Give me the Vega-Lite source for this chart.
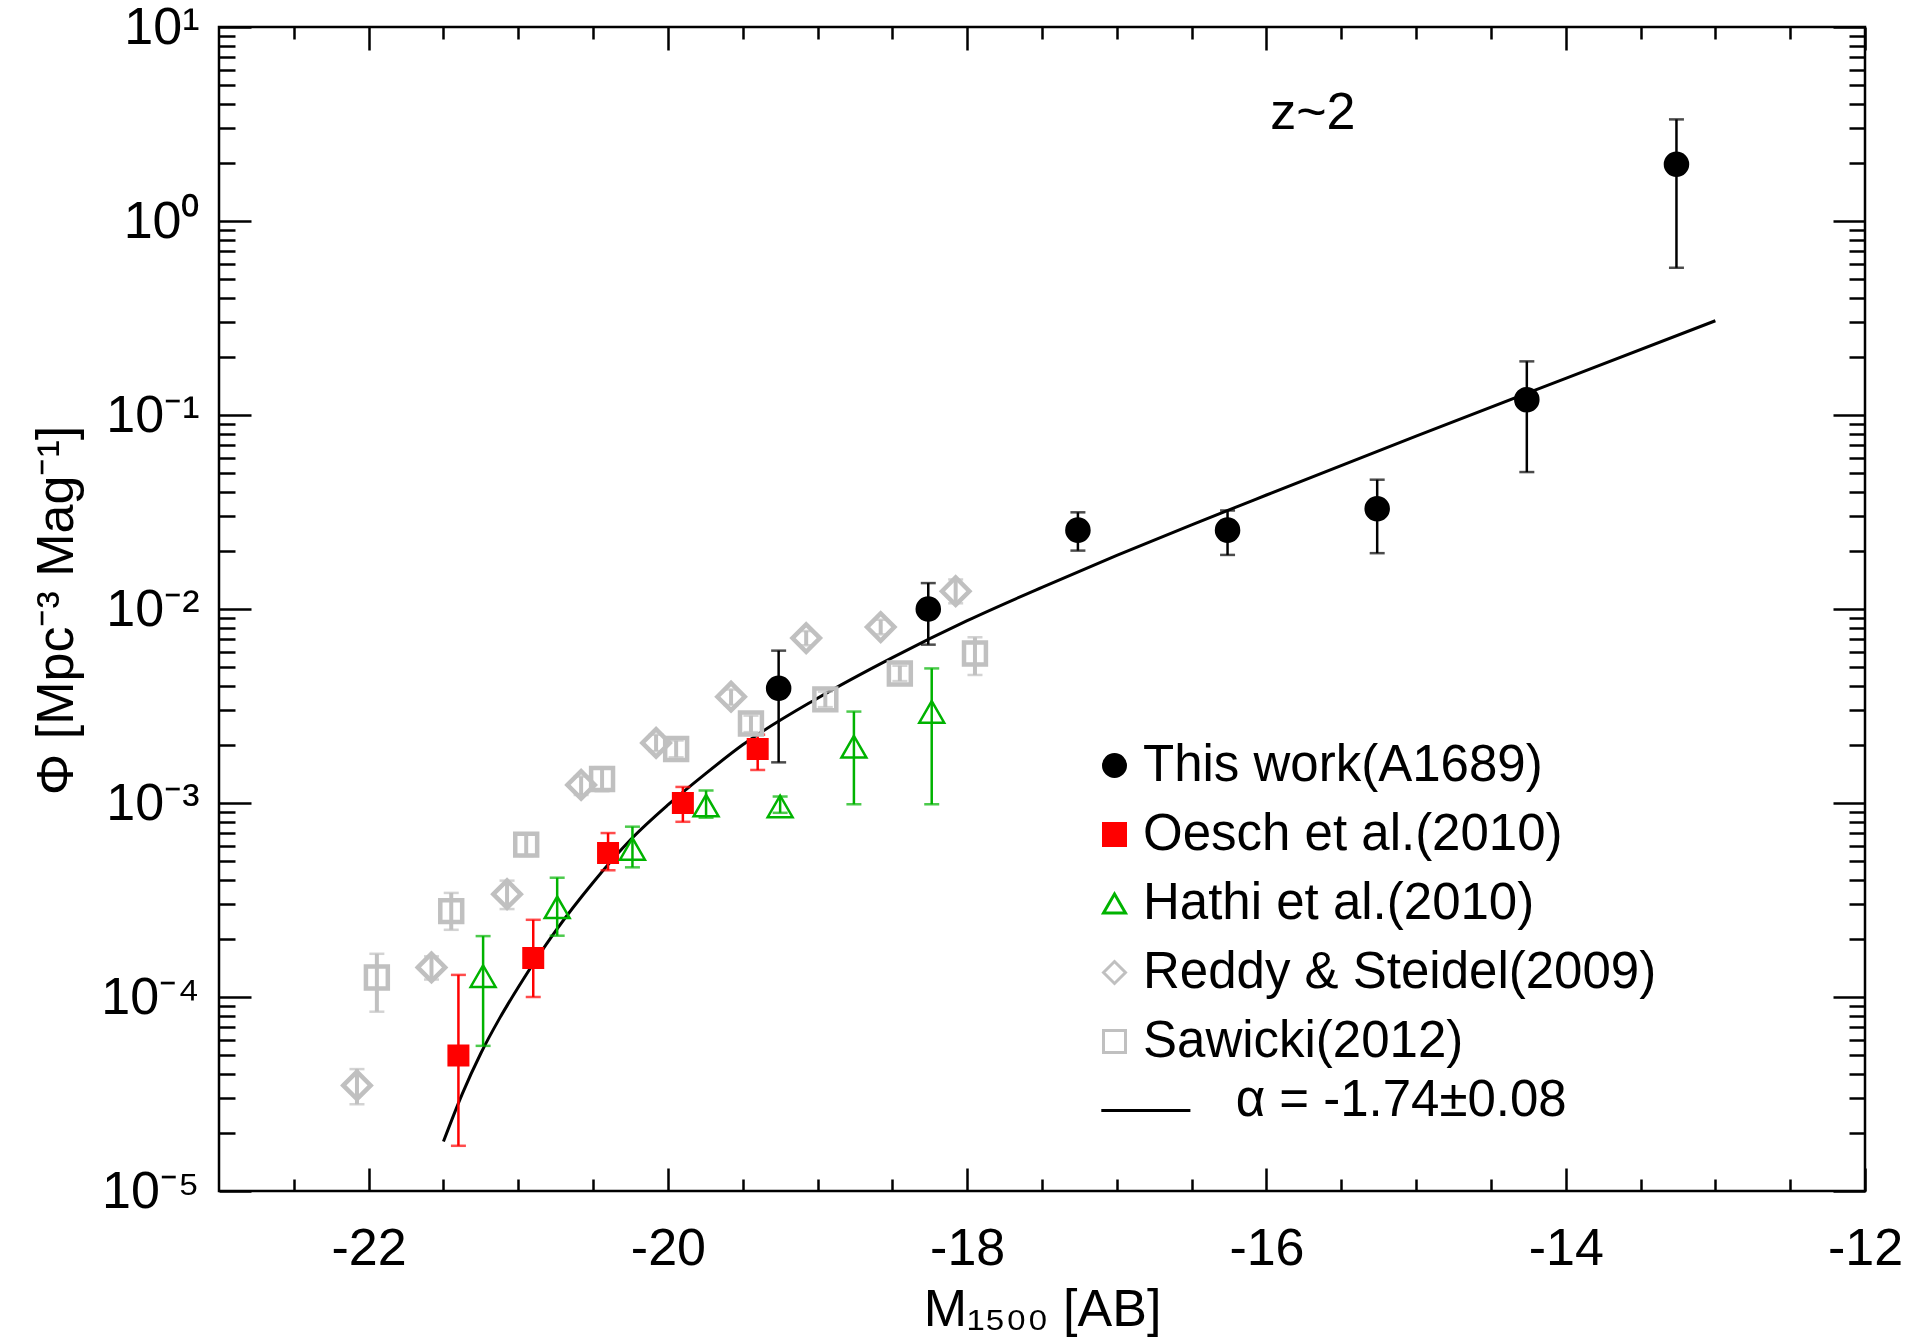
{
  "$schema": "https://vega.github.io/schema/vega-lite/v6.json",
  "width": 1646,
  "height": 1164,
  "autosize": {"type": "none"},
  "padding": {"left": 219, "top": 27, "right": 49, "bottom": 149},
  "background": "white",
  "config": {
    "view": {"stroke": "black", "strokeWidth": 2.5},
    "axis": {
      "grid": false, "domain": false, "tickColor": "black", "tickWidth": 2.5,
      "labelFont": "Liberation Sans", "labelFontSize": 52, "labelColor": "black",
      "titleFont": "Liberation Sans", "titleFontSize": 52, "titleFontWeight": "normal", "titleColor": "black",
      "labelFlush": false, "labelOverlap": false
    }
  },
  "datasets": {
    "curve": [
      {"M": -21.5, "phi": 1.80e-5},
      {"M": -21.375, "phi": 3.16e-5},
      {"M": -21.25, "phi": 5.13e-5},
      {"M": -21.125, "phi": 7.76e-5},
      {"M": -21.0, "phi": 1.122e-4},
      {"M": -20.75, "phi": 2.19e-4},
      {"M": -20.5, "phi": 3.89e-4},
      {"M": -20.25, "phi": 6.46e-4},
      {"M": -20.0, "phi": 9.77e-4},
      {"M": -19.75, "phi": 1.413e-3},
      {"M": -19.5, "phi": 1.995e-3},
      {"M": -19.0, "phi": 3.47e-3},
      {"M": -18.5, "phi": 5.62e-3},
      {"M": -18.0, "phi": 8.71e-3},
      {"M": -17.5, "phi": 1.294e-2},
      {"M": -17.0, "phi": 1.888e-2},
      {"M": -16.5, "phi": 2.716e-2},
      {"M": -16.0, "phi": 3.87e-2},
      {"M": -15.0, "phi": 7.78e-2},
      {"M": -14.0, "phi": 0.1545},
      {"M": -13.0, "phi": 0.306}
    ],
    "pts": [
      {"series": "This work(A1689)", "M": -19.26, "phi": 3.9e-3, "lo": 1.62e-3, "hi": 6.1e-3},
      {"series": "This work(A1689)", "M": -18.26, "phi": 1.0e-2, "lo": 6.55e-3, "hi": 1.36e-2},
      {"series": "This work(A1689)", "M": -17.26, "phi": 2.55e-2, "lo": 2.0e-2, "hi": 3.15e-2},
      {"series": "This work(A1689)", "M": -16.26, "phi": 2.55e-2, "lo": 1.9e-2, "hi": 3.22e-2},
      {"series": "This work(A1689)", "M": -15.26, "phi": 3.29e-2, "lo": 1.94e-2, "hi": 4.64e-2},
      {"series": "This work(A1689)", "M": -14.26, "phi": 0.120, "lo": 5.08e-2, "hi": 0.189},
      {"series": "This work(A1689)", "M": -13.26, "phi": 1.96, "lo": 0.574, "hi": 3.34},
      {"series": "Oesch et al.(2010)", "M": -21.40, "phi": 5.0e-5, "lo": 1.71e-5, "hi": 1.3e-4},
      {"series": "Oesch et al.(2010)", "M": -20.90, "phi": 1.59e-4, "lo": 1.0e-4, "hi": 2.5e-4},
      {"series": "Oesch et al.(2010)", "M": -20.40, "phi": 5.53e-4, "lo": 4.5e-4, "hi": 7.0e-4},
      {"series": "Oesch et al.(2010)", "M": -19.90, "phi": 1.0e-3, "lo": 8.0e-4, "hi": 1.21e-3},
      {"series": "Oesch et al.(2010)", "M": -19.40, "phi": 1.9e-3, "lo": 1.48e-3, "hi": 2.25e-3},
      {"series": "Hathi et al.(2010)", "M": -21.235, "phi": 1.28e-4, "lo": 5.6e-5, "hi": 2.06e-4},
      {"series": "Hathi et al.(2010)", "M": -20.74, "phi": 2.9e-4, "lo": 2.07e-4, "hi": 4.12e-4},
      {"series": "Hathi et al.(2010)", "M": -20.237, "phi": 5.8e-4, "lo": 4.66e-4, "hi": 7.55e-4},
      {"series": "Hathi et al.(2010)", "M": -19.745, "phi": 9.7e-4, "lo": 8.4e-4, "hi": 1.16e-3},
      {"series": "Hathi et al.(2010)", "M": -19.25, "phi": 9.6e-4, "lo": 8.9e-4, "hi": 1.08e-3},
      {"series": "Hathi et al.(2010)", "M": -18.757, "phi": 1.95e-3, "lo": 9.85e-4, "hi": 2.96e-3},
      {"series": "Hathi et al.(2010)", "M": -18.237, "phi": 2.95e-3, "lo": 9.85e-4, "hi": 4.94e-3},
      {"series": "Reddy & Steidel(2009)", "M": -22.078, "phi": 3.5e-5, "lo": 2.8e-5, "hi": 4.25e-5},
      {"series": "Reddy & Steidel(2009)", "M": -21.58, "phi": 1.42e-4, "lo": 1.23e-4, "hi": 1.62e-4},
      {"series": "Reddy & Steidel(2009)", "M": -21.075, "phi": 3.39e-4, "lo": 2.84e-4, "hi": 3.98e-4},
      {"series": "Reddy & Steidel(2009)", "M": -20.58, "phi": 1.24e-3, "lo": 1.1e-3, "hi": 1.37e-3},
      {"series": "Reddy & Steidel(2009)", "M": -20.079, "phi": 2.04e-3, "lo": 1.85e-3, "hi": 2.25e-3},
      {"series": "Reddy & Steidel(2009)", "M": -19.578, "phi": 3.53e-3, "lo": 3.2e-3, "hi": 3.85e-3},
      {"series": "Reddy & Steidel(2009)", "M": -19.076, "phi": 7.08e-3, "lo": 6.5e-3, "hi": 7.7e-3},
      {"series": "Reddy & Steidel(2009)", "M": -18.578, "phi": 8.07e-3, "lo": 7.4e-3, "hi": 8.8e-3},
      {"series": "Reddy & Steidel(2009)", "M": -18.077, "phi": 1.235e-2, "lo": 1.07e-2, "hi": 1.42e-2},
      {"series": "Sawicki(2012)", "M": -21.945, "phi": 1.26e-4, "lo": 8.4e-5, "hi": 1.67e-4},
      {"series": "Sawicki(2012)", "M": -21.448, "phi": 2.77e-4, "lo": 2.22e-4, "hi": 3.44e-4},
      {"series": "Sawicki(2012)", "M": -20.947, "phi": 6.1e-4, "lo": 5.33e-4, "hi": 6.97e-4},
      {"series": "Sawicki(2012)", "M": -20.44, "phi": 1.33e-3, "lo": 1.15e-3, "hi": 1.53e-3},
      {"series": "Sawicki(2012)", "M": -19.945, "phi": 1.9e-3, "lo": 1.72e-3, "hi": 2.1e-3},
      {"series": "Sawicki(2012)", "M": -19.445, "phi": 2.57e-3, "lo": 2.32e-3, "hi": 2.82e-3},
      {"series": "Sawicki(2012)", "M": -18.948, "phi": 3.42e-3, "lo": 3.12e-3, "hi": 3.75e-3},
      {"series": "Sawicki(2012)", "M": -18.45, "phi": 4.65e-3, "lo": 4.25e-3, "hi": 5.1e-3},
      {"series": "Sawicki(2012)", "M": -17.948, "phi": 5.9e-3, "lo": 4.57e-3, "hi": 7.15e-3}
    ],
    "note": [
      {"M": -15.69, "phi": 3.6, "label": "z~2"}
    ],
    "fitnote": [
      {"M": -16.206, "phi": 2.91e-5, "label": "α = -1.74±0.08"}
    ]
  },
  "layer": [
    {
      "data": {"name": "curve"},
      "mark": {"type": "line", "color": "black", "strokeWidth": 3, "interpolate": "monotone"},
      "encoding": {
        "x": {"field": "M", "type": "quantitative",
          "scale": {"domain": [-23, -12], "nice": false, "zero": false},
          "axis": {"orient": "bottom", "values": [-22, -20, -18, -16, -14, -12], "tickSize": -23, "labelPadding": 55,
            "labelExpr": "'' + datum.value",
            "title": "M₁₅₀₀ [AB]", "titleX": 823, "titleY": 134, "titleBaseline": "alphabetic"}},
        "y": {"field": "phi", "type": "quantitative",
          "scale": {"type": "log", "domain": [1e-5, 10], "nice": false},
          "axis": {"orient": "left", "values": [1e-5, 1e-4, 0.001, 0.01, 0.1, 1, 10], "tickSize": -32, "labelPadding": 52,
            "labelExpr": "datum.value == 10 ? '10¹' : datum.value == 1 ? '10⁰' : datum.value == 0.1 ? '10⁻¹' : datum.value == 0.01 ? '10⁻²' : datum.value == 0.001 ? '10⁻³' : datum.value == 0.0001 ? '10⁻⁴' : '10⁻⁵'",
            "title": "Φ [Mpc⁻³ Mag⁻¹]", "titleX": -147, "titleY": 583, "titleAngle": -90, "titleBaseline": "alphabetic"}}
      }
    },
    {
      "data": {"name": "pts"},
      "mark": {"type": "rule"},
      "encoding": {
        "x": {"field": "M", "type": "quantitative",
          "scale": {"domain": [-23, -12], "nice": false, "zero": false},
          "axis": {"orient": "bottom", "values": [-22.5, -21.5, -21, -20.5, -19.5, -19, -18.5, -17.5, -17, -16.5, -15.5, -15, -14.5, -13.5, -13, -12.5], "tickSize": -12, "labels": false, "title": null}},
        "y": {"field": "lo", "type": "quantitative",
          "scale": {"type": "log", "domain": [1e-5, 10], "nice": false},
          "axis": {"orient": "left", "values": [2e-5, 3e-5, 4e-5, 5e-5, 6e-5, 7e-5, 8e-5, 9e-5, 2e-4, 3e-4, 4e-4, 5e-4, 6e-4, 7e-4, 8e-4, 9e-4, 0.002, 0.003, 0.004, 0.005, 0.006, 0.007, 0.008, 0.009, 0.02, 0.03, 0.04, 0.05, 0.06, 0.07, 0.08, 0.09, 0.2, 0.3, 0.4, 0.5, 0.6, 0.7, 0.8, 0.9, 2, 3, 4, 5, 6, 7, 8, 9], "tickSize": -16, "labels": false, "title": null}},
        "y2": {"field": "hi"},
        "color": {"field": "series", "type": "nominal",
          "scale": {"domain": ["This work(A1689)", "Oesch et al.(2010)", "Hathi et al.(2010)", "Reddy & Steidel(2009)", "Sawicki(2012)"],
            "range": ["black", "#ff0000", "#00b300", "#c0c0c0", "#c0c0c0"]}, "legend": null},
        "strokeWidth": {"condition": {"test": "datum.series === 'Reddy & Steidel(2009)' || datum.series === 'Sawicki(2012)'", "value": 4}, "value": 2.5}
      }
    },
    {
      "data": {"name": "pts"},
      "mark": {"type": "tick", "orient": "horizontal", "size": 15, "thickness": 2.5},
      "encoding": {
        "x": {"field": "M", "type": "quantitative",
          "scale": {"domain": [-23, -12], "nice": false, "zero": false},
          "axis": {"orient": "top", "values": [-22, -20, -18, -16, -14, -12], "tickSize": -23, "labels": false, "title": null}},
        "y": {"field": "lo", "type": "quantitative",
          "scale": {"type": "log", "domain": [1e-5, 10], "nice": false},
          "axis": {"orient": "right", "values": [1e-5, 1e-4, 0.001, 0.01, 0.1, 1, 10], "tickSize": -32, "labels": false, "title": null}},
        "color": {"field": "series", "type": "nominal", "legend": null}
      }
    },
    {
      "data": {"name": "pts"},
      "mark": {"type": "tick", "orient": "horizontal", "size": 15, "thickness": 2.5},
      "encoding": {
        "x": {"field": "M", "type": "quantitative",
          "scale": {"domain": [-23, -12], "nice": false, "zero": false},
          "axis": {"orient": "top", "values": [-22.5, -21.5, -21, -20.5, -19.5, -19, -18.5, -17.5, -17, -16.5, -15.5, -15, -14.5, -13.5, -13, -12.5], "tickSize": -12, "labels": false, "title": null}},
        "y": {"field": "hi", "type": "quantitative",
          "scale": {"type": "log", "domain": [1e-5, 10], "nice": false},
          "axis": {"orient": "right", "values": [2e-5, 3e-5, 4e-5, 5e-5, 6e-5, 7e-5, 8e-5, 9e-5, 2e-4, 3e-4, 4e-4, 5e-4, 6e-4, 7e-4, 8e-4, 9e-4, 0.002, 0.003, 0.004, 0.005, 0.006, 0.007, 0.008, 0.009, 0.02, 0.03, 0.04, 0.05, 0.06, 0.07, 0.08, 0.09, 0.2, 0.3, 0.4, 0.5, 0.6, 0.7, 0.8, 0.9, 2, 3, 4, 5, 6, 7, 8, 9], "tickSize": -16, "labels": false, "title": null}},
        "color": {"field": "series", "type": "nominal", "legend": null}
      }
    },
    {
      "data": {"name": "pts"},
      "mark": {"type": "point", "opacity": 1},
      "encoding": {
        "x": {"field": "M", "type": "quantitative", "scale": {"domain": [-23, -12], "nice": false, "zero": false}, "axis": null},
        "y": {"field": "phi", "type": "quantitative", "scale": {"type": "log", "domain": [1e-5, 10], "nice": false}, "axis": null},
        "shape": {"field": "series", "type": "nominal",
          "scale": {"domain": ["This work(A1689)", "Oesch et al.(2010)", "Hathi et al.(2010)", "Reddy & Steidel(2009)", "Sawicki(2012)", "\u00a0"],
            "range": ["circle", "square", "triangle-up", "diamond", "square", "M -1.2 0 L 6.9 0"]},
          "legend": {"orient": "none", "legendX": 870, "legendY": 713, "title": null, "symbolSize": 484, "symbolStrokeWidth": 3,
            "labelFont": "Liberation Sans", "labelFontSize": 51, "labelColor": "black", "labelOffset": 3, "rowPadding": 17, "padding": 0, "labelLimit": 0}},
        "fill": {"field": "series", "type": "nominal",
          "scale": {"domain": ["This work(A1689)", "Oesch et al.(2010)", "Hathi et al.(2010)", "Reddy & Steidel(2009)", "Sawicki(2012)", "\u00a0"],
            "range": ["black", "#ff0000", "transparent", "transparent", "transparent", "transparent"]}},
        "stroke": {"field": "series", "type": "nominal",
          "scale": {"domain": ["This work(A1689)", "Oesch et al.(2010)", "Hathi et al.(2010)", "Reddy & Steidel(2009)", "Sawicki(2012)", "\u00a0"],
            "range": ["black", "#ff0000", "#00b300", "#c0c0c0", "#c0c0c0", "black"]}},
        "size": {"condition": [
            {"test": "datum.series === 'Reddy & Steidel(2009)'", "value": 750},
            {"test": "datum.series === 'Sawicki(2012)'", "value": 480},
            {"test": "datum.series === 'Oesch et al.(2010)'", "value": 380},
            {"test": "datum.series === 'Hathi et al.(2010)'", "value": 620}
          ], "value": 530},
        "strokeWidth": {"condition": {"test": "datum.series === 'Reddy & Steidel(2009)' || datum.series === 'Sawicki(2012)'", "value": 4.5}, "value": 2.5}
      }
    },
    {
      "data": {"name": "note"},
      "mark": {"type": "text", "font": "Liberation Sans", "fontSize": 52, "align": "center", "baseline": "middle", "color": "black"},
      "encoding": {
        "x": {"field": "M", "type": "quantitative", "scale": {"domain": [-23, -12], "nice": false, "zero": false}, "axis": null},
        "y": {"field": "phi", "type": "quantitative", "scale": {"type": "log", "domain": [1e-5, 10], "nice": false}, "axis": null},
        "text": {"field": "label"}
      }
    },
    {
      "data": {"name": "fitnote"},
      "mark": {"type": "text", "font": "Liberation Sans", "fontSize": 51, "align": "left", "baseline": "middle", "color": "black"},
      "encoding": {
        "x": {"field": "M", "type": "quantitative", "scale": {"domain": [-23, -12], "nice": false, "zero": false}, "axis": null},
        "y": {"field": "phi", "type": "quantitative", "scale": {"type": "log", "domain": [1e-5, 10], "nice": false}, "axis": null},
        "text": {"field": "label"}
      }
    }
  ],
  "resolve": {"axis": {"x": "independent", "y": "independent"}}
}
